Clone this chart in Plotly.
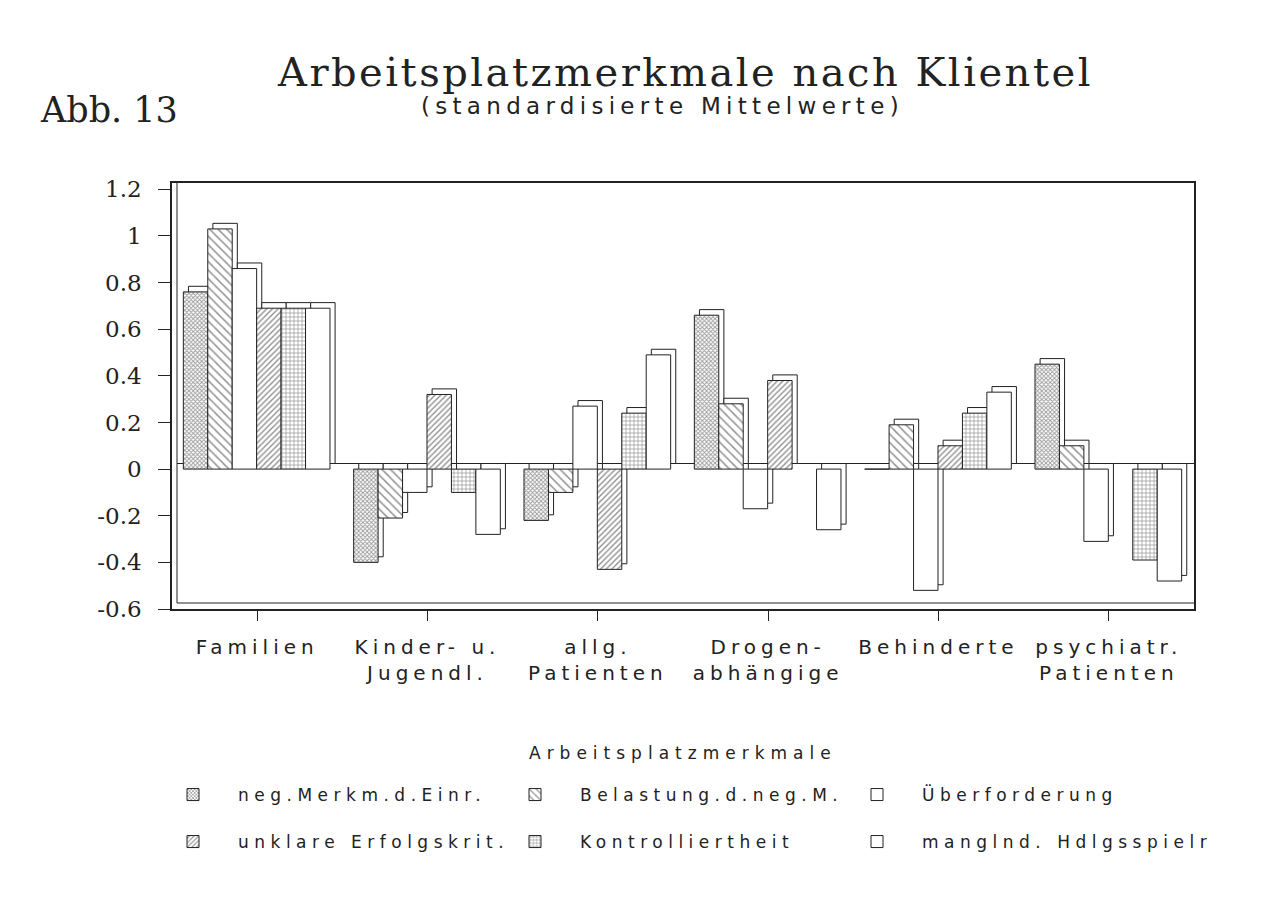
import plotly.graph_objects as go

# ---------------- data ----------------
categories = ["Familien", "Kinder- u.<br>Jugendl.", "allg.<br>Patienten",
              "Drogen-<br>abhängige", "Behinderte", "psychiatr.<br>Patienten"]

series_names = ["neg.Merkm.d.Einr.", "Belastung.d.neg.M.", "Überforderung",
                "unklare Erfolgskrit.", "Kontrolliertheit", "manglnd. Hdlgsspielr"]

neg_merkm = [0.76, -0.40, -0.22, 0.66, 0.0, 0.45]
belastung = [1.03, -0.21, -0.10, 0.28, 0.19, 0.10]
ueberforderung = [0.86, -0.10, 0.27, -0.17, -0.52, -0.31]
unklare = [0.69, 0.32, -0.43, 0.38, 0.10, None]
kontrolliertheit = [0.69, -0.10, 0.24, None, 0.24, -0.39]
mangelnd = [0.69, -0.28, 0.49, -0.26, 0.33, -0.48]

y_tick_vals = [1.2, 1.0, 0.8, 0.6, 0.4, 0.2, 0.0, -0.2, -0.4, -0.6]
y_tick_text = ["1.2", "1", "0.8", "0.6", "0.4", "0.2", "0", "-0.2", "-0.4", "-0.6"]

series_values = [neg_merkm, belastung, ueberforderung, unklare, kontrolliertheit, mangelnd]

# ---------------- styles ----------------
INK = "#222222"
SANS = "DejaVu Sans"
SERIF = "DejaVu Serif"

patterns = [
    dict(shape="x", size=3, solidity=0.5, fgcolor="#333333", bgcolor="white"),
    dict(shape="\\", size=6, solidity=0.25, fgcolor=INK, bgcolor="white"),
    dict(shape="", fgcolor=INK, bgcolor="white"),
    dict(shape="/", size=4, solidity=0.35, fgcolor=INK, bgcolor="white"),
    dict(shape="+", size=4, solidity=0.3, fgcolor=INK, bgcolor="white"),
    dict(shape="", fgcolor=INK, bgcolor="white"),
]

BAR_W = 0.1435
START = -0.4335
DX = 0.03      # depth, category units
DY = 0.024     # depth, data units

def spaced(text, px):
    return '<span style="letter-spacing:%spx">%s</span>' % (px, text)

# page is shown with an 8px body margin -> work in figure coordinates
OFF = 8
FIG_W, FIG_H = 1264, 891
L, T = 172 - OFF, 183 - OFF
R = FIG_W - (1194 - OFF)
B = FIG_H - (609 - OFF)
W_PLOT = FIG_W - L - R
H_PLOT = FIG_H - T - B

def px_x(vx):
    return (vx - OFF - L) / W_PLOT

def px_y(vy):
    return (T + H_PLOT - (vy - OFF)) / H_PLOT

def cx(vx):
    return (vx - OFF) / FIG_W

def cy(vy):
    return 1 - (vy - OFF) / FIG_H

legend_ids = ["legend", "legend2", "legend3", "legend4", "legend5", "legend6"]
legend_pos = [(148, 795), (490, 795), (832, 795),
              (148, 842), (490, 842), (832, 842)]

fig = go.Figure()

# back faces (3D depth effect)
for i, vals in enumerate(series_values):
    fig.add_trace(go.Bar(
        x=categories, y=vals, base=DY,
        offset=START + i * BAR_W + DX, width=BAR_W,
        marker=dict(color="white", line=dict(color=INK, width=1)),
        showlegend=False, hoverinfo="skip",
    ))

# front faces
for i, (name, vals) in enumerate(zip(series_names, series_values)):
    fig.add_trace(go.Bar(
        x=categories, y=vals, name=spaced(name, 5.5),
        offset=START + i * BAR_W, width=BAR_W,
        marker=dict(color="white", pattern=patterns[i], line=dict(color=INK, width=1)),
        legend=legend_ids[i],
    ))

legends = {}
for lid, (lx, ly) in zip(legend_ids, legend_pos):
    legends[lid] = dict(
        orientation="h", xref="container", yref="container",
        x=cx(lx), y=cy(ly), xanchor="left", yanchor="middle",
        itemwidth=80,
        font=dict(family=SANS, size=17, color=INK),
        bgcolor="rgba(0,0,0,0)",
    )

fig.update_layout(
    width=FIG_W, height=FIG_H,
    margin=dict(l=L, r=R, t=T, b=B, autoexpand=False),
    paper_bgcolor="white", plot_bgcolor="white",
    barmode="overlay",
    showlegend=True,
    xaxis=dict(
        type="category", range=[-0.5, 5.5],
        showline=True, mirror=True, linecolor=INK, linewidth=1.5,
        ticks="outside", ticklen=10, tickcolor=INK,
        tickmode="array", tickvals=categories,
        ticktext=[spaced(c, 5) for c in categories],
        tickfont=dict(family=SANS, size=20, color=INK),
        ticklabelstandoff=9,
        showgrid=False, zeroline=False,
    ),
    yaxis=dict(
        range=[-0.6, 1.227],
        showline=True, mirror=True, linecolor=INK, linewidth=1.5,
        ticks="outside", ticklen=12, tickcolor=INK,
        tickmode="array", tickvals=y_tick_vals, ticktext=y_tick_text,
        tickfont=dict(family=SERIF, size=23, color=INK),
        ticklabelstandoff=12,
        showgrid=False, zeroline=False,
    ),
    shapes=[
        # back wall / floor lines of the 3D frame
        dict(type="line", xref="paper", yref="paper", x0=px_x(177), x1=px_x(177),
             y0=px_y(603), y1=1, line=dict(color=INK, width=1)),
        dict(type="line", xref="paper", yref="paper", x0=px_x(177), x1=1,
             y0=px_y(603), y1=px_y(603), line=dict(color=INK, width=1)),
        # back zero line
        dict(type="line", xref="paper", yref="y", x0=px_x(177), x1=1,
             y0=DY, y1=DY, line=dict(color=INK, width=1), layer="below"),
    ],
    annotations=[
        dict(text=spaced("Arbeitsplatzmerkmale nach Klientel", 2.5),
             xref="paper", yref="paper", x=px_x(685), y=px_y(72),
             xanchor="center", yanchor="middle", showarrow=False,
             font=dict(family=SERIF, size=40, color=INK)),
        dict(text=spaced("(standardisierte Mittelwerte)", 5.3),
             xref="paper", yref="paper", x=px_x(662), y=px_y(106),
             xanchor="center", yanchor="middle", showarrow=False,
             font=dict(family=SANS, size=23, color=INK)),
        dict(text="Abb. 13",
             xref="paper", yref="paper", x=px_x(38), y=px_y(110),
             xanchor="left", yanchor="middle", showarrow=False,
             font=dict(family=SERIF, size=35, color=INK)),
        dict(text=spaced("Arbeitsplatzmerkmale", 6),
             xref="paper", yref="paper", x=px_x(683), y=px_y(753),
             xanchor="center", yanchor="middle", showarrow=False,
             font=dict(family=SANS, size=17, color=INK)),
    ],
    **legends,
)

fig.write_html("out.html")
